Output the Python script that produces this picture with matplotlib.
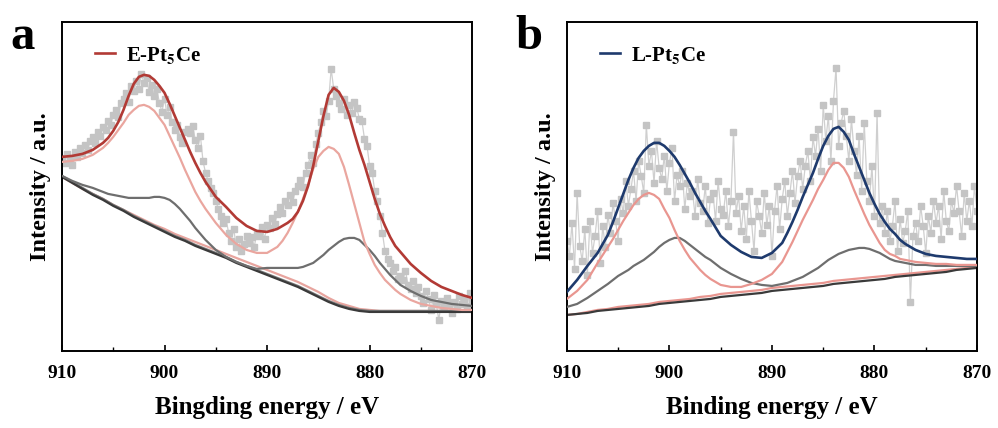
import numpy as np
import matplotlib
matplotlib.use("Agg")
from matplotlib import pyplot as plt

plt.rcParams['font.family'] = ['Liberation Serif', 'DejaVu Serif']
plt.rcParams['font.weight'] = 'bold'
plt.rcParams['mathtext.fontset'] = 'stix'

# fitted curves: 1 eV steps, 0.5 eV steps around the two peaks
fit_energy = [910, 909, 908, 907, 906,
              905.5, 905, 904.5, 904, 903.5, 903, 902.5, 902, 901.5, 901, 900.5, 900,
              899.5, 899, 898.5, 898, 897.5, 897, 896.5, 896,
              895, 894, 893, 892, 891, 890, 889,
              888.5, 888, 887.5, 887, 886.5, 886, 885.5, 885, 884.5, 884, 883.5, 883,
              882.5, 882, 881.5, 881, 880.5, 880, 879.5, 879, 878.5, 878, 877.5, 877,
              876, 875, 874, 873, 872, 871, 870]

a_envelope = [194, 195, 197, 201, 208,
              213, 220, 229, 241, 255, 267, 274, 276, 275, 271, 265, 258,
              247, 235, 223, 211, 199, 188, 178, 169,
              154, 144, 133, 125, 120, 119, 122,
              125, 128, 132, 139, 150, 165, 185, 210, 235, 256, 263, 259,
              250, 236, 218, 201, 186, 169, 152, 137, 125, 114, 105, 99,
              87, 78, 70, 64, 60, 56, 53]
a_pink = [189, 190, 192, 196, 203,
          208, 214, 221, 228, 236, 241, 245, 246, 244, 240, 233, 226,
          215, 204, 193, 181, 170, 159, 150, 142,
          128, 116, 107, 101, 98, 98, 104,
          110, 118, 128, 139, 152, 166, 182, 194, 200, 204, 202, 197,
          184, 166, 147, 128, 109, 97, 86, 78, 71, 66, 61, 57,
          51, 47, 45, 43, 42, 41, 41]
a_gray = [175, 170, 166, 163, 159,
          157, 156, 155, 154, 153, 153, 153, 153, 153, 154, 154, 153,
          151, 147, 142, 136, 130, 123, 117, 111,
          101, 94, 89, 85, 82, 83, 83,
          83, 83, 83, 83, 84, 86, 88, 92, 96, 101, 105, 109,
          112, 113, 113, 111, 106, 101, 95, 88, 82, 76, 71, 66,
          60, 55, 51, 49, 47, 46, 45]

b_envelope = [59, 71, 85, 98, 116,
              129, 143, 157, 171, 183, 193, 200, 205, 208, 208, 205, 200,
              194, 186, 177, 168, 158, 149, 140, 132,
              115, 106, 99, 94, 93, 98, 108,
              118, 129, 141, 154, 166, 178, 192, 205, 215, 222, 224, 219,
              211, 197, 184, 171, 158, 147, 137, 129, 122, 117, 111, 107,
              101, 97, 95, 94, 93, 92, 92]
b_pink = [52, 60, 71, 88, 104,
          112, 121, 130, 138, 146, 152, 156, 158, 156, 152, 142, 133,
          121, 110, 101, 93, 87, 81, 76, 72,
          66, 64, 64, 67, 71, 77, 89,
          99, 109, 120, 131, 141, 151, 162, 171, 181, 188, 188, 183,
          174, 161, 149, 137, 126, 117, 108, 101, 97, 95, 92, 91,
          89, 88, 87, 87, 86, 86, 86]
b_gray = [44, 47, 53, 60, 67,
          71, 75, 78, 81, 85, 88, 91, 95, 99, 104, 108, 111,
          113, 113, 110, 106, 102, 98, 94, 91,
          83, 77, 72, 68, 66, 65, 67,
          68, 70, 72, 74, 77, 80, 83, 87, 91, 94, 97, 99,
          101, 102, 103, 103, 102, 100, 98, 95, 92, 90, 89, 88,
          86, 86, 85, 85, 85, 85, 85]

# backgrounds, 1 eV steps from 910 down to 870
base_energy = np.arange(910, 869, -1)

a_base = [174, 168, 162, 156, 151, 145, 140, 134, 129, 124, 119, 114, 110, 105, 101, 97, 93, 88, 84, 80,
          76, 72, 68, 64, 59, 54, 49, 45, 42, 40, 39, 39, 39, 39, 39, 39, 39, 39, 39, 39, 39]
a_base_pink = [174, 168, 162, 157, 152, 146, 141, 136, 131, 126, 122, 117, 113, 109, 105, 101, 97, 93, 89, 85,
               81, 77, 73, 69, 64, 59, 53, 48, 45, 42, 41, 40, 40, 40, 40, 40, 40, 40, 40, 40, 40]
a_base_gray = [175, 169, 163, 157, 152, 146, 141, 135, 130, 125, 120, 115, 111, 106, 102, 98, 94, 89, 85, 81,
               77, 73, 69, 65, 60, 55, 50, 46, 43, 41, 40, 40, 40, 40, 40, 40, 40, 40, 40, 40, 40]
b_base = [36, 37, 38, 40, 41, 42, 43, 44, 45, 47, 48, 49, 50, 51, 52, 54, 55, 56, 57, 58,
          60, 61, 62, 63, 64, 65, 67, 68, 69, 70, 71, 72, 74, 75, 76, 77, 78, 79, 81, 82, 83]
b_base_pink = [36, 37, 39, 41, 42, 44, 45, 46, 47, 49, 50, 51, 52, 54, 55, 57, 58, 59, 60, 61,
               63, 64, 65, 66, 67, 68, 70, 71, 72, 73, 74, 75, 76, 77, 78, 79, 80, 81, 82, 83, 84]

# measured spectra, every 0.25 eV from 910 down to 870
energy_raw = np.arange(910, 869.9, -0.25)

a_raw = [193,
         188, 197, 192, 186, 199, 194, 203, 198, 206, 201, 210, 214, 208, 219, 215, 224,
         221, 230, 226, 236, 241, 234, 248, 252, 258, 249, 265, 260, 270, 262, 277, 268,
         273, 259, 266, 255, 262, 248, 239, 252, 236, 244, 229, 221, 226, 214, 208, 219,
         222, 218, 225, 211, 203, 215, 190, 178, 170, 163, 158, 150, 142, 135, 128, 132,
         118, 110, 122, 104, 112, 100, 107, 115, 108, 114, 104, 118, 115, 124, 112, 126,
         123, 133, 127, 137, 144, 138, 150, 146, 156, 149, 160, 165, 171, 164, 178, 186,
         196, 188, 207, 218, 229, 240, 235, 250, 282, 262, 255, 248, 242, 252, 236, 246,
         238, 249, 243, 232, 230, 212, 205, 185, 178, 160, 150, 135, 118, 100, 92, 88,
         80, 84, 72, 75, 71, 80, 66, 62, 70, 58, 64, 55, 48, 60, 52, 41,
         56, 47, 31, 50, 44, 53, 46, 38, 49, 42, 55, 47, 52, 45, 58, 50]

b_raw = [110,
         95, 128, 82, 158, 105, 90, 122, 76, 130, 98, 115, 140, 88, 125, 104, 136,
         118, 148, 130, 110, 152, 138, 170, 145, 162, 180, 150, 190, 175, 158, 226, 185,
         200, 168, 210, 183, 172, 195, 160, 188, 203, 150, 176, 165, 180, 142, 168, 155,
         160, 135, 172, 148, 140, 165, 128, 152, 158, 130, 170, 142, 136, 160, 125, 150,
         219, 138, 155, 120, 145, 112, 160, 130, 100, 150, 135, 118, 158, 126, 145, 95,
         140, 165, 122, 152, 170, 135, 158, 180, 148, 175, 190, 162, 185, 200, 170, 214,
         195, 222, 180, 246, 210, 235, 190, 250, 283, 205, 228, 240, 215, 190, 232, 200,
         176, 215, 160, 228, 170, 150, 185, 135, 238, 128, 145, 118, 140, 110, 125, 150,
         100, 132, 108, 120, 140, 49, 115, 128, 110, 145, 125, 98, 135, 118, 150, 128,
         145, 112, 160, 130, 120, 150, 138, 165, 140, 115, 158, 130, 150, 125, 165, 140]

panels = [
    dict(letter='a', raw=a_raw, env=a_envelope, pink=a_pink, gray=a_gray,
         bases=[(a_base_pink, '#e8a59f'), (a_base_gray, '#777777'), (a_base, '#3a3a3a')],
         env_color='#b23a35', pink_color='#eaa69f', label=r'E-Pt$_\mathbf{5}$Ce',
         xlabel='Bingding energy / eV', left=0.0621),
    dict(letter='b', raw=b_raw, env=b_envelope, pink=b_pink, gray=b_gray,
         bases=[(b_base_pink, '#e99690'), (b_base, '#3a3a3a')],
         env_color='#1e3a6d', pink_color='#e99690', label=r'L-Pt$_\mathbf{5}$Ce',
         xlabel='Binding energy / eV', left=0.568),
]

fig = plt.figure(figsize=(9.98, 4.28), dpi=100)

for p in panels:
    ax = fig.add_axes([p['left'], 0.180, 0.411, 0.769])
    ax.plot(energy_raw, p['raw'], color='#cfcfcf', lw=0.9, marker='s', ms=4.8,
            mfc='#c4c4c4', mec='#c4c4c4', zorder=1)
    for base, c in p['bases']:
        ax.plot(base_energy, base, color=c, lw=1.6, zorder=2)
    ax.plot(fit_energy, p['gray'], color='#6e6e6e', lw=1.6, zorder=3)
    ax.plot(fit_energy, p['pink'], color=p['pink_color'], lw=1.6, zorder=3)
    ax.plot(fit_energy, p['env'], color=p['env_color'], lw=1.9, zorder=4, label=p['label'])

    ax.set_xlim(910, 870)
    ax.set_ylim(0, 329)
    ax.set_xticks([910, 900, 890, 880, 870])
    ax.set_xticks([905, 895, 885, 875], minor=True)
    ax.set_yticks([])
    ax.tick_params(axis='x', which='both', direction='in', top=False, labelsize=14, pad=10)
    ax.tick_params(axis='x', which='major', length=4, width=1.2)
    ax.tick_params(axis='x', which='minor', length=3, width=1.0)
    for lab in ax.get_xticklabels():
        lab.set_fontweight('bold')
    for s in ax.spines.values():
        s.set_linewidth(1.4)
    ax.set_xlabel(p['xlabel'], fontsize=18, fontweight='bold', labelpad=10)
    ax.set_ylabel('Intensity / a.u.', fontsize=17.5, fontweight='bold', labelpad=8)
    ax.legend(loc='upper left', frameon=False, handlelength=0.95, handletextpad=0.55,
              borderaxespad=0.3, bbox_to_anchor=(0.045, 0.975),
              prop={'size': 15, 'weight': 'bold'})
    fig.text(p['left'] - 0.052, 0.885, p['letter'], fontsize=35, fontweight='bold')

fig.savefig('out.png', dpi=100)
